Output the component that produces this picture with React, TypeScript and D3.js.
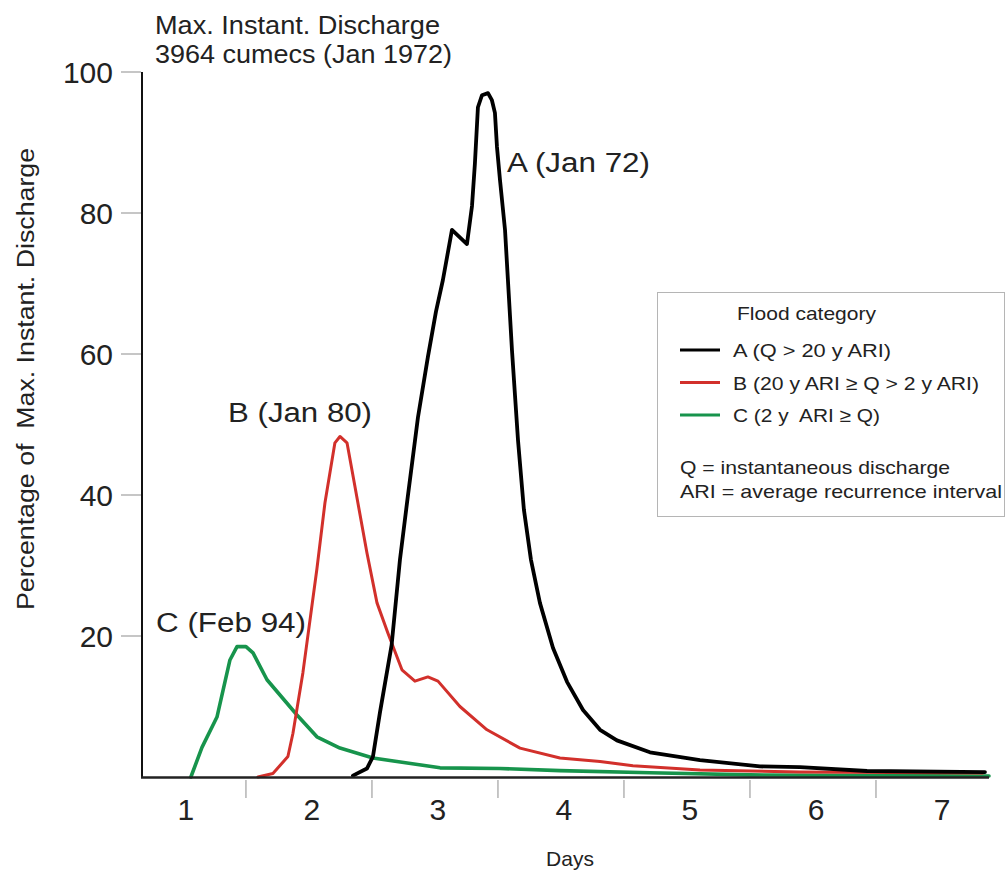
import React from "react";
import * as d3 from "d3";

// ---- Data ----
const X_TICK_LABELS = [1, 2, 3, 4, 5, 6, 7];
const X_BOUNDARY_TICKS = [1.5, 2.5, 3.5, 4.5, 5.5, 6.5];
const Y_TICKS = [20, 40, 60, 80, 100];

// Flood A (Jan 72)
const A_DAYS = [2.349, 2.46, 2.508, 2.563, 2.656, 2.722, 2.786, 2.865, 2.944, 3.008, 3.063, 3.135, 3.254, 3.294, 3.317, 3.341, 3.373, 3.421, 3.452, 3.476, 3.492, 3.516, 3.556, 3.579, 3.611, 3.659, 3.706, 3.762, 3.833, 3.937, 4.048, 4.175, 4.31, 4.444, 4.706, 5.103, 5.579, 5.897, 6.429, 7.365];
const A_PCT = [0.2, 1.2, 2.9, 9.1, 18.7, 30.8, 40, 51, 59.6, 66, 70.5, 77.6, 75.6, 81, 87, 95, 96.7, 97, 96, 94.2, 89.4, 84.7, 77.6, 70.5, 60.6, 47.8, 37.9, 30.8, 24.7, 18.3, 13.5, 9.5, 6.7, 5.2, 3.5, 2.4, 1.5, 1.4, 0.85, 0.7];

// Flood B (Jan 80)
const B_DAYS = [1.595, 1.714, 1.833, 1.873, 1.952, 2.063, 2.127, 2.206, 2.246, 2.302, 2.365, 2.46, 2.54, 2.627, 2.738, 2.841, 2.944, 3.024, 3.198, 3.413, 3.675, 3.992, 4.31, 4.571, 5.103, 5.897, 7.349];
const B_PCT = [0, 0.5, 2.9, 6.2, 14.8, 29.5, 38.9, 47.4, 48.3, 47.4, 41.2, 31.8, 24.7, 20.4, 15.2, 13.6, 14.2, 13.6, 10.0, 6.7, 4.1, 2.7, 2.2, 1.6, 1.0, 0.7, 0.57];

// Flood C (Feb 94)
const C_DAYS = [1.063, 1.151, 1.27, 1.373, 1.429, 1.5, 1.556, 1.667, 1.905, 2.063, 2.246, 2.508, 3.04, 3.516, 3.992, 4.706, 5.5, 7.397];
const C_PCT = [0, 4.2, 8.5, 16.6, 18.5, 18.5, 17.6, 13.8, 8.8, 5.7, 4.1, 2.7, 1.3, 1.2, 0.9, 0.6, 0.3, 0.15];

const SERIES = [
  { key: "C", days: C_DAYS, pct: C_PCT, color: "#17944c", width: 3.6 },
  { key: "B", days: B_DAYS, pct: B_PCT, color: "#d2302b", width: 3 },
  { key: "A", days: A_DAYS, pct: A_PCT, color: "#000000", width: 3.8 },
];

const LEGEND = [
  { label: "A (Q > 20 y ARI)", color: "#000000", len: 158 },
  { label: "B (20 y ARI \u2265 Q > 2 y ARI)", color: "#d2302b", len: 246 },
  { label: "C (2 y  ARI \u2265 Q)", color: "#17944c", len: 147 },
];

const FONT = "'Liberation Sans', Arial, Helvetica, sans-serif";

export default function App() {
  const W = 1007;
  const H = 876;
  const x = d3.scaleLinear().domain([0.675, 7.397]).range([142, 989]);
  const y = d3.scaleLinear().domain([0, 100]).range([777, 72]);

  const line = d3
    .line<[number, number]>()
    .x((d) => x(d[0]))
    .y((d) => y(d[1]))
    .curve(d3.curveLinear);

  return (
    <svg
      width={W}
      height={H}
      style={{ position: "absolute", left: 0, top: 0, background: "#fff" }}
      fontFamily={FONT}
    >
      <rect x={0} y={0} width={W} height={H} fill="#fff" />

      {/* Title */}
      <text x={155} y={34} fontSize={25} fill="#222" textLength={285} lengthAdjust="spacingAndGlyphs">
        Max. Instant. Discharge
      </text>
      <text x={155} y={63} fontSize={25} fill="#222" textLength={297} lengthAdjust="spacingAndGlyphs">
        3964 cumecs (Jan 1972)
      </text>

      {/* Y axis ticks and labels */}
      {Y_TICKS.map((t) => (
        <g key={t}>
          <line x1={121} x2={141} y1={y(t)} y2={y(t)} stroke="#a0a0a0" strokeWidth={1.2} />
          <text x={113} y={y(t) + 11} fontSize={30} textAnchor="end" fill="#222">
            {t}
          </text>
        </g>
      ))}

      {/* X axis boundary ticks */}
      {X_BOUNDARY_TICKS.map((t) => (
        <line key={t} x1={x(t)} x2={x(t)} y1={780} y2={798} stroke="#a0a0a0" strokeWidth={1.2} />
      ))}
      {X_TICK_LABELS.map((t) => (
        <text key={t} x={x(t)} dx={3} y={820} fontSize={30} textAnchor="middle" fill="#222">
          {t}
        </text>
      ))}

      {/* Axis titles */}
      <text x={570} y={866} fontSize={21} textAnchor="middle" fill="#222">
        Days
      </text>
      <text
        transform="translate(34,379) rotate(-90)"
        fontSize={23}
        textAnchor="middle"
        fill="#222"
        textLength={462}
        lengthAdjust="spacingAndGlyphs"
        style={{ whiteSpace: "pre" }}
      >
        Percentage of  Max. Instant. Discharge
      </text>

      {/* Series */}
      {SERIES.map((s) => (
        <path
          key={s.key}
          d={line(s.days.map((d, i) => [d, s.pct[i]] as [number, number])) || ""}
          fill="none"
          stroke={s.color}
          strokeWidth={s.width}
          strokeLinejoin="round"
          strokeLinecap="round"
        />
      ))}

      {/* Axis lines */}
      <line x1={142} x2={142} y1={y(100)} y2={778} stroke="#111" strokeWidth={2} />
      <line x1={141} x2={989} y1={777.5} y2={777.5} stroke="#222" strokeWidth={2.5} />

      {/* Annotations */}
      <text x={507} y={172} fontSize={27} fill="#222" textLength={143} lengthAdjust="spacingAndGlyphs">
        A (Jan 72)
      </text>
      <text x={228} y={422} fontSize={27} fill="#222" textLength={144} lengthAdjust="spacingAndGlyphs">
        B (Jan 80)
      </text>
      <text x={156} y={632} fontSize={27} fill="#222" textLength={150} lengthAdjust="spacingAndGlyphs">
        C (Feb 94)
      </text>

      {/* Legend */}
      <rect x={657.5} y={292.5} width={347} height={224} fill="#fff" stroke="#b5b5b5" strokeWidth={1} />
      <text x={737} y={320} fontSize={19} fill="#222" textLength={139} lengthAdjust="spacingAndGlyphs">
        Flood category
      </text>
      {LEGEND.map((l, i) => (
        <g key={l.label}>
          <line x1={680} x2={720} y1={350 + i * 32.5} y2={350 + i * 32.5} stroke={l.color} strokeWidth={3} />
          <text
            x={733}
            y={357 + i * 32.5}
            fontSize={19}
            fill="#222"
            textLength={l.len}
            lengthAdjust="spacingAndGlyphs"
            style={{ whiteSpace: "pre" }}
          >
            {l.label}
          </text>
        </g>
      ))}
      <text x={680} y={474} fontSize={19} fill="#222" textLength={270} lengthAdjust="spacingAndGlyphs">
        Q = instantaneous discharge
      </text>
      <text x={680} y={498} fontSize={19} fill="#222" textLength={322} lengthAdjust="spacingAndGlyphs">
        ARI = average recurrence interval
      </text>
    </svg>
  );
}
